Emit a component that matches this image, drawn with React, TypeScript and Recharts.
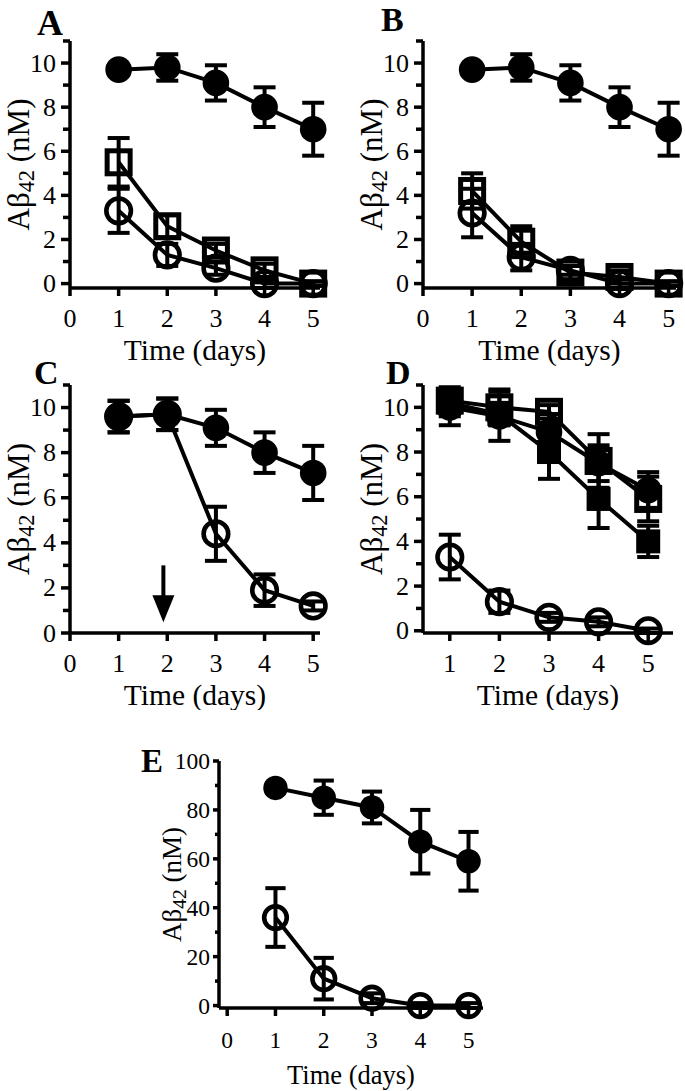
import React from 'react';
import { LineChart, Line, XAxis, YAxis, ErrorBar, ReferenceLine, ReferenceDot } from 'recharts';

// ---------- data ----------
const days = [1, 2, 3, 4, 5];

// Panel A
const aFilledCircle = [9.7, 9.8, 9.1, 8.0, 7.0];
const aFilledCircleErr = [0.2, 0.6, 0.8, 0.9, 1.2];
const aOpenSquare = [5.5, 2.6, 1.5, 0.6, 0.0];
const aOpenSquareErr = [1.1, 0.5, 0.3, 0.3, 0.1];
const aOpenCircle = [3.3, 1.3, 0.7, 0.0, 0.0];
const aOpenCircleErr = [1.0, 0.5, 0.3, 0.2, 0.1];

// Panel B
const bFilledCircle = [9.7, 9.8, 9.1, 8.0, 7.0];
const bFilledCircleErr = [0.2, 0.6, 0.8, 0.9, 1.2];
const bOpenSquare = [4.2, 1.9, 0.5, 0.3, 0.0];
const bOpenSquareErr = [0.8, 0.7, 0.3, 0.3, 0.1];
const bOpenCircle = [3.2, 1.2, 0.6, 0.0, 0.0];
const bOpenCircleErr = [1.1, 0.6, 0.2, 0.2, 0.1];

// Panel C
const cOpenCircle = [9.6, 9.7, 4.4, 1.9, 1.2];
const cOpenCircleErr = [0.7, 0.7, 1.2, 0.7, 0.2];
const cFilledCircle = [9.6, 9.7, 9.1, 8.0, 7.1];
const cFilledCircleErr = [0.7, 0.7, 0.8, 0.9, 1.2];
const cArrowX = 1.92;
const cArrowTop = 3.0;
const cArrowShaftEnd = 1.6;
const cArrowHead = 1.1;

// Panel D
const dOpenCircle = [3.3, 1.3, 0.6, 0.4, 0.0];
const dOpenCircleErr = [1.0, 0.5, 0.2, 0.2, 0.1];
const dFilledSquare = [10.2, 9.7, 8.0, 5.9, 4.0];
const dFilledSquareErr = [0.6, 0.5, 1.2, 1.3, 0.7];
const dOpenSquare = [10.3, 10.0, 9.8, 7.6, 5.9];
const dOpenSquareErr = [0.6, 0.8, 0.3, 1.2, 1.0];
const dFilledCircle = [10.0, 9.6, 8.9, 7.5, 6.3];
const dFilledCircleErr = [0.8, 1.1, 0.8, 0.8, 0.8];

// Panel E
const eFilledCircle = [89, 85, 81, 67, 59];
const eFilledCircleErr = [2, 7, 6.5, 13, 12];
const eOpenCircle = [36, 11, 3, 0, 0];
const eOpenCircleErr = [12, 8.5, 2, 1, 1];

// ticks
const xTicksFrom0 = [0, 1, 2, 3, 4, 5];
const xTicksFrom1 = [1, 2, 3, 4, 5];
const yTicksNM = [0, 1, 2, 3, 4, 5, 6, 7, 8, 9, 10, 11];
const yTicksE = [0, 10, 20, 30, 40, 50, 60, 70, 80, 90, 100];

const FONT = '"Liberation Serif", "Times New Roman", serif';

type Marker = 'fc' | 'oc' | 'fs' | 'os';
type Series = { values: number[]; errs: number[]; marker: Marker };

function buildRows(series: Series[]) {
  return days.map((d, i) => {
    const row: any = { day: d };
    series.forEach((s, k) => {
      row['v' + k] = s.values[i];
      row['e' + k] = s.errs[i];
    });
    return row;
  });
}

function makeDot(marker: Marker, scale: number) {
  return (p: any) => {
    const key = `dot-${marker}-${p.index}`;
    if (p.cx == null || p.cy == null) return <g key={key} />;
    if (marker === 'fc') return <circle key={key} cx={p.cx} cy={p.cy} r={13.3 * scale} fill="#000" stroke="none" />;
    if (marker === 'oc')
      return <circle key={key} cx={p.cx} cy={p.cy} r={12.3 * scale} fill="none" stroke="#000" strokeWidth={4.6} />;
    const side = (marker === 'os' ? 23 : 24) * scale;
    if (marker === 'fs')
      return <rect key={key} x={p.cx - side / 2} y={p.cy - side / 2} width={side} height={side} fill="#000" />;
    return (
      <rect key={key} x={p.cx - side / 2} y={p.cy - side / 2} width={side} height={side} fill="none" stroke="#000" strokeWidth={5} />
    );
  };
}

function YTick(props: any) {
  const { x, y, payload, labelEvery, fontSize, gap, majorLen } = props;
  const major = payload.value % labelEvery === 0;
  return (
    <g>
      <line x1={x} x2={x - (major ? majorLen : majorLen - 2)} y1={y} y2={y} stroke="#000" strokeWidth={3.5} />
      {major && (
        <text x={x - gap} y={y} textAnchor="end" dominantBaseline="central" fontSize={fontSize} fontFamily={FONT} fill="#000">
          {payload.value}
        </text>
      )}
    </g>
  );
}

function XTick(props: any) {
  const { x, y, payload, fontSize, labelDy } = props;
  return (
    <g>
      <line x1={x} x2={x} y1={y} y2={y + 8} stroke="#000" strokeWidth={3.5} />
      <text x={x} y={y + labelDy} textAnchor="middle" dominantBaseline="central" fontSize={fontSize} fontFamily={FONT} fill="#000">
        {payload.value}
      </text>
    </g>
  );
}

type PanelProps = {
  left: number;
  top: number;
  width: number;
  height: number;
  yAxisWidth: number;
  xAxisHeight: number;
  margin: { top: number; right: number; bottom: number; left: number };
  xDomain: [number, number];
  xTicks: number[];
  yDomain: [number, number];
  yTicks: number[];
  labelEvery: number;
  series: Series[];
  tickFont: number;
  titleFont: number;
  yLabelFont: number;
  yLabelOffset: number;
  yTickGap: number;
  yTickLen: number;
  markerScale: number;
  titleDy: number;
  xLabelDy: number;
  arrow?: boolean;
};

function Panel(p: PanelProps) {
  const rows = buildRows(p.series);
  const yLabel = (lp: any) => {
    const vb = lp.viewBox;
    const x = vb.x + vb.width - p.yLabelOffset;
    const y = vb.y + vb.height / 2;
    const fs = p.yLabelFont;
    return (
      <text
        x={x}
        y={y}
        transform={`rotate(-90 ${x} ${y})`}
        textAnchor="middle"
        dominantBaseline="central"
        fontSize={fs}
        fontFamily={FONT}
        fill="#000"
      >
        Aβ
        <tspan dy={fs * 0.25} fontSize={fs * 0.72}>
          42
        </tspan>
        <tspan dy={-fs * 0.25}> (nM)</tspan>
      </text>
    );
  };
  const xLabel = (lp: any) => {
    const vb = lp.viewBox;
    return (
      <text
        x={vb.x + vb.width / 2}
        y={vb.y + p.titleDy}
        textAnchor="middle"
        dominantBaseline="central"
        fontSize={p.titleFont}
        fontFamily={FONT}
        fill="#000"
      >
        Time (days)
      </text>
    );
  };
  return (
    <div style={{ position: 'absolute', left: p.left, top: p.top, width: p.width, height: p.height }}>
      <LineChart width={p.width} height={p.height} data={rows} margin={p.margin}>
        <XAxis
          dataKey="day"
          type="number"
          domain={p.xDomain}
          ticks={p.xTicks}
          interval={0}
          height={p.xAxisHeight}
          tickSize={0}
          tickMargin={0}
          tickLine={false}
          axisLine={{ stroke: '#000', strokeWidth: 3.5 }}
          tick={<XTick fontSize={p.tickFont} labelDy={p.xLabelDy} />}
          label={{ content: xLabel } as any}
        />
        <YAxis
          type="number"
          domain={p.yDomain}
          ticks={p.yTicks}
          interval={0}
          width={p.yAxisWidth}
          tickSize={0}
          tickMargin={0}
          tickLine={false}
          axisLine={{ stroke: '#000', strokeWidth: 3.5 }}
          tick={<YTick labelEvery={p.labelEvery} fontSize={p.tickFont} gap={p.yTickGap} majorLen={p.yTickLen} />}
          label={{ content: yLabel } as any}
        />
        {p.series.map((s, k) => (
          <Line
            key={'s' + k}
            dataKey={'v' + k}
            type="linear"
            stroke="#000"
            strokeWidth={4}
            dot={makeDot(s.marker, p.markerScale)}
            activeDot={false}
            isAnimationActive={false}
          >
            <ErrorBar dataKey={'e' + k} width={11 * p.markerScale} strokeWidth={4} stroke="#000" direction="y" />
          </Line>
        ))}
        {p.arrow && (
          <ReferenceLine
            segment={[
              { x: cArrowX, y: cArrowTop },
              { x: cArrowX, y: cArrowShaftEnd },
            ]}
            stroke="#000"
            strokeWidth={4}
          />
        )}
        {p.arrow && (
          <ReferenceDot
            x={cArrowX}
            y={cArrowHead}
            r={1}
            shape={(sp: any) => (
              <polygon
                points={`${sp.cx - 11},${sp.cy - 13} ${sp.cx + 11},${sp.cy - 13} ${sp.cx},${sp.cy + 14}`}
                fill="#000"
              />
            )}
          />
        )}
      </LineChart>
    </div>
  );
}

const letterStyle = { fontWeight: 700, fontFamily: FONT } as const;

export default function App() {
  const common = {
    tickFont: 26,
    titleFont: 29.5,
    yLabelFont: 31,
    yLabelOffset: 52,
    yTickGap: 14,
    yTickLen: 9,
    markerScale: 1,
    titleDy: 62,
    xLabelDy: 30,
    labelEvery: 2,
    yDomain: [0, 11] as [number, number],
    yTicks: yTicksNM,
  };
  return (
    <div style={{ position: 'absolute', left: 0, top: 0, width: 685, height: 1091, background: '#fff', overflow: 'hidden' }}>
      <Panel
        {...common}
        left={0}
        top={0}
        width={340}
        height={370}
        yAxisWidth={70}
        xAxisHeight={82}
        margin={{ top: 41, right: 20, bottom: 0, left: 0 }}
        xDomain={[0, 5.14]}
        xTicks={xTicksFrom0}
        series={[
          { values: aOpenCircle, errs: aOpenCircleErr, marker: 'oc' },
          { values: aOpenSquare, errs: aOpenSquareErr, marker: 'os' },
          { values: aFilledCircle, errs: aFilledCircleErr, marker: 'fc' },
        ]}
      />
      <Panel
        {...common}
        left={340}
        top={0}
        width={345}
        height={370}
        yAxisWidth={83}
        xAxisHeight={82}
        margin={{ top: 41, right: 9, bottom: 0, left: 0 }}
        xDomain={[0, 5.15]}
        xTicks={xTicksFrom0}
        series={[
          { values: bOpenCircle, errs: bOpenCircleErr, marker: 'oc' },
          { values: bOpenSquare, errs: bOpenSquareErr, marker: 'os' },
          { values: bFilledCircle, errs: bFilledCircleErr, marker: 'fc' },
        ]}
      />
      <Panel
        {...common}
        left={0}
        top={370}
        width={340}
        height={340}
        yAxisWidth={70}
        xAxisHeight={77}
        margin={{ top: 15, right: 20, bottom: 0, left: 0 }}
        xDomain={[0, 5.14]}
        xTicks={xTicksFrom0}
        arrow
        series={[
          { values: cOpenCircle, errs: cOpenCircleErr, marker: 'oc' },
          { values: cFilledCircle, errs: cFilledCircleErr, marker: 'fc' },
        ]}
      />
      <Panel
        {...common}
        left={340}
        top={370}
        width={345}
        height={340}
        yAxisWidth={83}
        xAxisHeight={77}
        margin={{ top: 15, right: 12, bottom: 0, left: 0 }}
        xDomain={[0.46, 5.5]}
        xTicks={xTicksFrom1}
        series={[
          { values: dOpenCircle, errs: dOpenCircleErr, marker: 'oc' },
          { values: dFilledSquare, errs: dFilledSquareErr, marker: 'fs' },
          { values: dOpenSquare, errs: dOpenSquareErr, marker: 'os' },
          { values: dFilledCircle, errs: dFilledCircleErr, marker: 'fc' },
        ]}
      />
      <Panel
        {...common}
        tickFont={23.5}
        titleFont={26.5}
        yLabelFont={27}
        yLabelOffset={47}
        yTickGap={9}
        yTickLen={6}
        markerScale={0.92}
        titleDy={67}
        xLabelDy={32}
        labelEvery={20}
        yDomain={[0, 100]}
        yTicks={yTicksE}
        left={140}
        top={730}
        width={400}
        height={361}
        yAxisWidth={79}
        xAxisHeight={83}
        margin={{ top: 31, right: 57, bottom: 0, left: 0 }}
        xDomain={[-0.17, 5.3]}
        xTicks={xTicksFrom0}
        series={[
          { values: eOpenCircle, errs: eOpenCircleErr, marker: 'oc' },
          { values: eFilledCircle, errs: eFilledCircleErr, marker: 'fc' },
        ]}
      />
      <svg width={685} height={1091} style={{ position: 'absolute', left: 0, top: 0, pointerEvents: 'none' }}>
        <text x={37} y={35} fontSize={36} {...letterStyle}>A</text>
        <text x={381} y={31} fontSize={34} {...letterStyle}>B</text>
        <text x={34} y={384} fontSize={34} {...letterStyle}>C</text>
        <text x={386} y={384} fontSize={34} {...letterStyle}>D</text>
        <text x={141} y={772} fontSize={33} {...letterStyle}>E</text>
      </svg>
    </div>
  );
}
